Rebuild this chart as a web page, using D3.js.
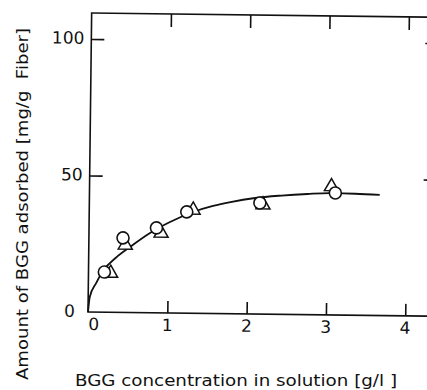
<!DOCTYPE html>
<html><head><meta charset="utf-8">
<script src="https://cdn.jsdelivr.net/npm/d3@7/dist/d3.min.js"></script>
<style>html,body{margin:0;padding:0;background:#fff;} text{font-family:"DejaVu Sans",sans-serif;fill:#111;white-space:pre;}</style>
</head><body><svg id="c" width="427" height="390"></svg>
<script>
// Data
const circleX = [0.20, 0.43, 0.85, 1.23, 2.15, 3.10];
const circleY = [14.7, 27.3, 31.1, 37.1, 40.7, 44.7];
const triX = [0.28, 0.46, 0.91, 1.31, 2.19, 3.05];
const triY = [14.3, 24.7, 29.2, 37.8, 40.0, 47.0];
const curveX = [0, 0.02, 0.10, 0.18, 0.34, 0.52, 0.77, 1.02, 1.31, 1.56, 1.78, 2.09, 2.42, 2.75, 3.04, 3.35, 3.66];
const curveY = [0, 5.5, 10.7, 15.0, 19.9, 24.0, 29.2, 33.3, 37.1, 39.4, 40.9, 42.5, 43.5, 44.2, 44.6, 44.5, 44.2];
const xTicks = [0, 1, 2, 3, 4];
const yTicks = [0, 50, 100];
const xTitle = "BGG concentration in solution [g/l ]";
const yTitle = "Amount of BGG adsorbed [mg/g  Fiber]";

const svg = d3.select("#c");
const x = d3.scaleLinear().domain([0, 4.35]).range([88, 433]);
const y = d3.scaleLinear().domain([0, 109.5]).range([312, 13]);

const g = svg.append("g").attr("transform", "rotate(0.7,88,312)");

// frame
g.append("rect").attr("x", x(0)).attr("y", y(109.5))
  .attr("width", x(4.35) - x(0)).attr("height", y(0) - y(109.5))
  .attr("fill", "none").attr("stroke", "#111").attr("stroke-width", 1.6);

// axes with inward ticks
const ax = d3.axisBottom(x).tickValues(xTicks.filter(d => d > 0)).tickSize(-12).tickFormat("");
g.append("g").attr("transform", `translate(0,${y(0)})`).call(ax);
const axTop = d3.axisTop(x).tickValues(xTicks.filter(d => d > 0)).tickSize(-13).tickFormat("");
g.append("g").attr("transform", `translate(0,${y(109.5)})`).call(axTop);
const ayL = d3.axisLeft(y).tickValues(yTicks.filter(d => d > 0)).tickSize(-13).tickFormat("");
g.append("g").attr("transform", `translate(${x(0)},0)`).call(ayL);
const ayR = d3.axisRight(y).tickValues(yTicks.filter(d => d > 0)).tickSize(-11).tickFormat("");
g.append("g").attr("transform", `translate(${x(4.35)},0)`).call(ayR);
g.selectAll(".domain").remove();
g.selectAll(".tick line").attr("stroke", "#111").attr("stroke-width", 1.6);

// tick labels
g.selectAll(".xl").data(xTicks).join("text")
  .attr("x", d => x(d) + (d === 0 ? 6 : 0)).attr("y", 330)
  .attr("text-anchor", "middle").attr("font-size", 17).text(d => d);
g.selectAll(".yl").data(yTicks).join("text")
  .attr("x", d => d === 0 ? 75 : 81).attr("y", d => y(d) + 5)
  .attr("text-anchor", "end").attr("font-size", 17).text(d => d);

// curve
const pts = curveX.map((d, i) => [d, curveY[i]]);
g.append("path").datum(pts)
  .attr("d", d3.line().x(d => x(d[0])).y(d => y(d[1])).curve(d3.curveMonotoneX))
  .attr("fill", "none").attr("stroke", "#111").attr("stroke-width", 1.8);

// triangles
const tri = d3.symbol().type(d3.symbolTriangle).size(85);
g.selectAll(".tri").data(triX.map((d, i) => [d, triY[i]])).join("path")
  .attr("transform", d => `translate(${x(d[0])},${y(d[1])})`)
  .attr("d", tri).attr("fill", "#fff").attr("stroke", "#111").attr("stroke-width", 1.5);

// circles
g.selectAll(".cir").data(circleX.map((d, i) => [d, circleY[i]])).join("circle")
  .attr("cx", d => x(d[0])).attr("cy", d => y(d[1])).attr("r", 6)
  .attr("fill", "#fff").attr("stroke", "#111").attr("stroke-width", 1.6);

// titles
svg.append("text").attr("x", 75).attr("y", 386).attr("font-size", 16)
  .attr("textLength", 322).attr("lengthAdjust", "spacingAndGlyphs").text(xTitle);
svg.append("text").attr("transform", "translate(28,380) rotate(-90)")
  .attr("x", 0).attr("y", 0).attr("font-size", 16)
  .attr("textLength", 352).attr("lengthAdjust", "spacingAndGlyphs").text(yTitle);
</script></body></html>
